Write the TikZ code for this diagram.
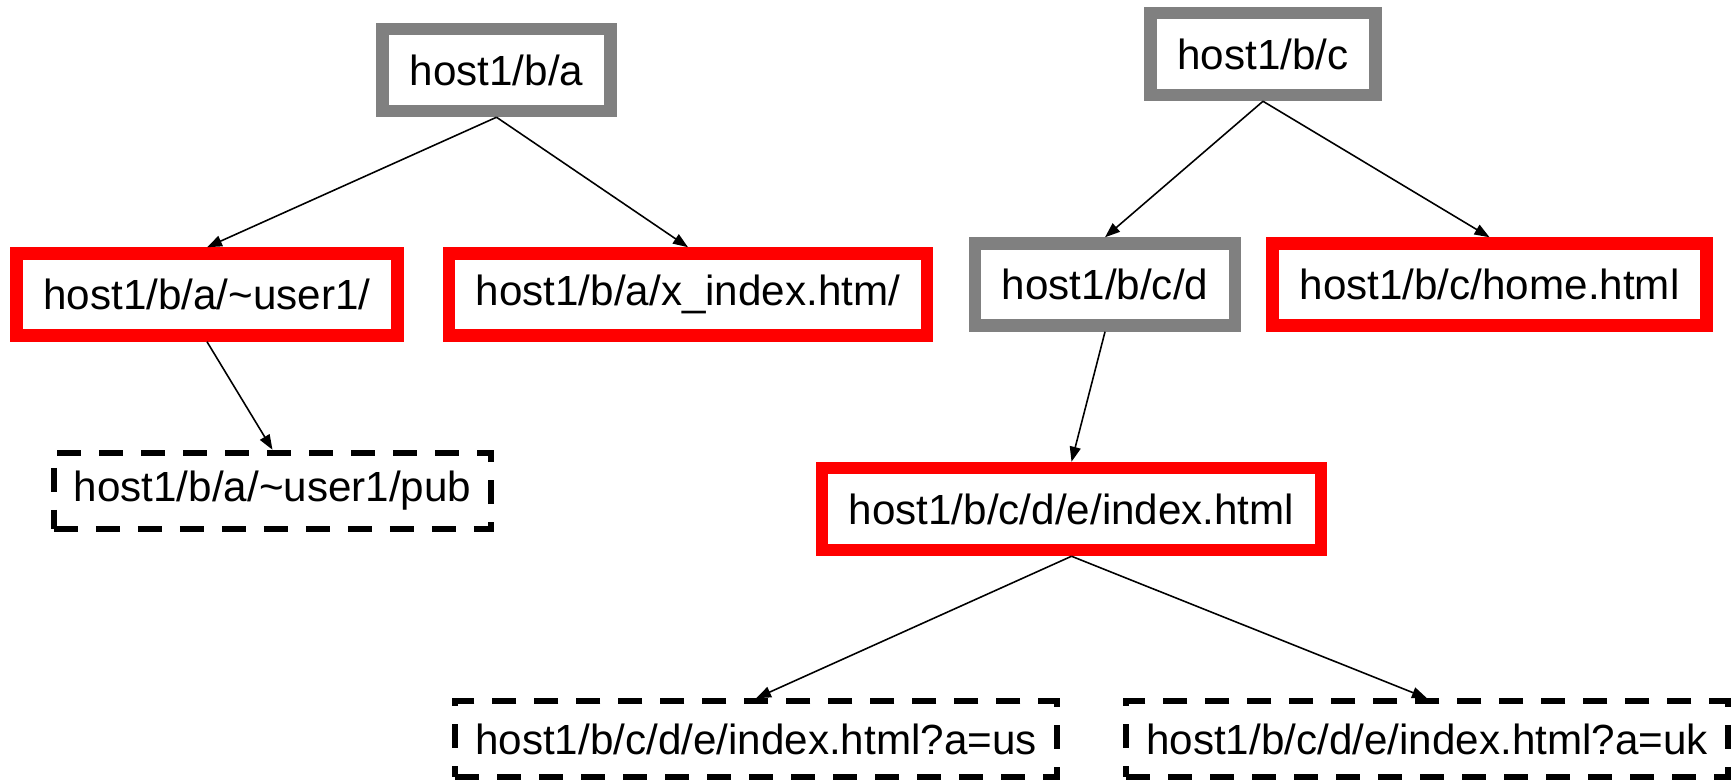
\documentclass[tikz,border=0pt]{standalone}
\usepackage{fontspec}
\setmainfont{Liberation Sans}
\usepackage{xcolor}
\usetikzlibrary{arrows.meta,positioning}
\definecolor{dirGray}{RGB}{128,128,128}
\definecolor{pageRed}{RGB}{255,0,0}

\begin{document}
\begin{tikzpicture}[
  font=\fontsize{12}{14}\selectfont,
  dirbox/.style={draw=dirGray,line width=0.125cm,minimum height=0.82cm,inner xsep=0.27cm,fill=white},
  pagebox/.style={draw=pageRed,line width=0.125cm,minimum height=0.82cm,inner xsep=0.27cm,fill=white},
  linkbox/.style={draw,dash pattern=on 0.24cm off 0.18cm,line width=0.06cm,minimum height=0.76cm,inner xsep=0.2cm},
  arrow/.style={-{Triangle[length=0.15cm,width=0.11cm]},line width=0.45pt}
]
\useasboundingbox (0,0) rectangle (17.36,-7.80);
% left tree
\node[dirbox] (ba) at (4.965,-0.70) {host1/b/a};
\node[pagebox,below=1.30cm of ba,xshift=-2.895cm] (user) {host1/b/a/\textasciitilde user1/};
\node[pagebox,below=1.30cm of ba,xshift=1.915cm] (xindex) {host1/b/a/x\_index.htm/};
\node[linkbox,below=1.08cm of user,xshift=0.655cm] (pub) {host1/b/a/\textasciitilde user1/pub};
% right tree
\node[dirbox] (bc) at (12.63,-0.54) {host1/b/c};
\node[dirbox,below=1.36cm of bc,xshift=-1.58cm] (bcd) {host1/b/c/d};
\node[pagebox,below=1.36cm of bc,xshift=2.265cm] (home) {host1/b/c/home.html};
\node[pagebox,below=1.30cm of bcd,xshift=-0.335cm] (index) {host1/b/c/d/e/index.html};
\node[linkbox,below=1.42cm of index,xshift=-3.155cm] (us) {host1/b/c/d/e/index.html?a=us};
\node[linkbox,below=1.42cm of index,xshift=3.555cm] (uk) {host1/b/c/d/e/index.html?a=uk};

\draw[arrow] (ba.south) -- (user.north);
\draw[arrow] (ba.south) -- (xindex.north);
\draw[arrow] (user.south) -- (pub.north);
\draw[arrow] (bc.south) -- (bcd.north);
\draw[arrow] (bc.south) -- (home.north);
\draw[arrow] (bcd.south) -- (index.north);
\draw[arrow] (index.south) -- (us.north);
\draw[arrow] (index.south) -- (uk.north);
\end{tikzpicture}
\end{document}
